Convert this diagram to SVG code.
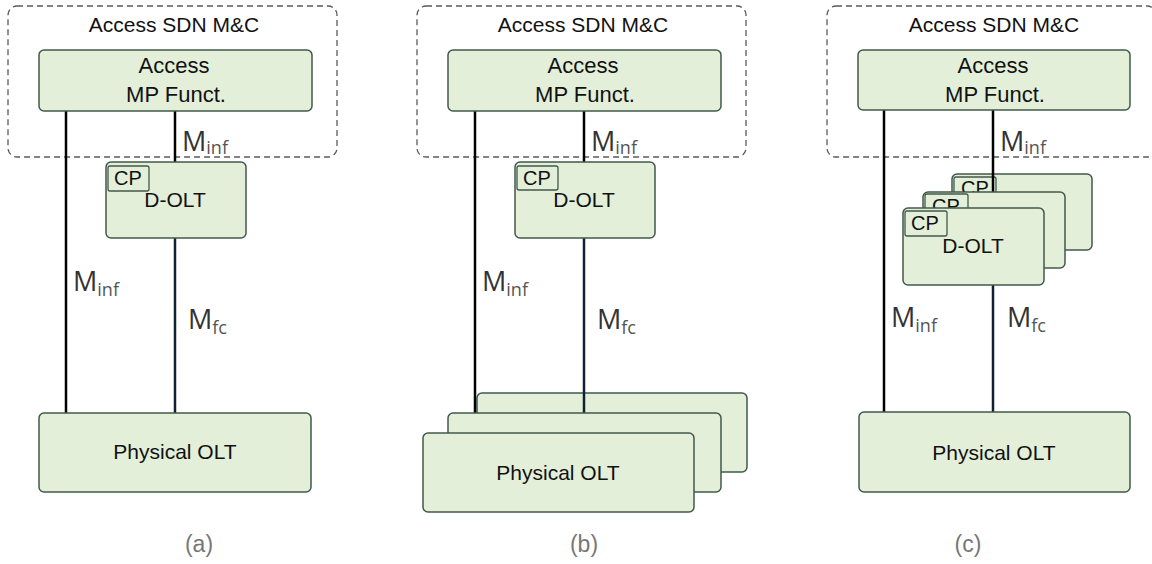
<svg xmlns="http://www.w3.org/2000/svg" width="1152" height="564" viewBox="0 0 1152 564">
<defs>
<style>
.bg{fill:#ffffff}
.dash{fill:none;stroke:#5a5a5a;stroke-width:1.3;stroke-dasharray:6,4}
.box{fill:#e3efd9;stroke:#41594a;stroke-width:1.5}
.cp{fill:#e3efd9;stroke:#41594a;stroke-width:1.3}
.t{font-family:"Liberation Sans",Arial,sans-serif;font-size:21px;fill:#111;text-anchor:middle}
.tm{font-family:"Liberation Sans",Arial,sans-serif;font-size:22px;fill:#111;text-anchor:middle}
.ts{font-family:"Liberation Sans",Arial,sans-serif;font-size:21px;fill:#111;text-anchor:middle}
.tcp{font-family:"Liberation Sans",Arial,sans-serif;font-size:20px;fill:#111}
.m{font-family:"Open Sans","Liberation Sans",sans-serif;font-size:27px;fill:#333}
.sub{font-size:18px;fill:#555}
.cap{font-family:"Liberation Sans",Arial,sans-serif;font-size:23px;fill:#777;text-anchor:middle}
.lk{stroke:#000;stroke-width:2.5;fill:none}
.ln{stroke:#102035;stroke-width:2.5;fill:none}
</style>
</defs>
<rect class="bg" x="0" y="0" width="1152" height="564"/>

<!-- containers -->
<g id="sdn-a"><rect class="dash" x="8" y="6" width="329" height="151" rx="9"/><text class="t" x="174" y="32">Access SDN M&amp;C</text></g>
<g id="sdn-b"><rect class="dash" x="417" y="6" width="329" height="151" rx="9"/><text class="t" x="583" y="32">Access SDN M&amp;C</text></g>
<g id="sdn-c"><rect class="dash" x="827" y="6" width="329" height="151" rx="9"/><text class="t" x="994" y="32">Access SDN M&amp;C</text></g>

<!-- back boxes -->
<g id="polt-b3"><rect class="box" x="477" y="393" width="270" height="79" rx="5"/></g>
<g id="dolt-c3"><rect class="box" x="952" y="174" width="140" height="76" rx="5"/><rect class="cp" x="954" y="177" width="42" height="25" rx="2"/><text class="tcp" x="961" y="195">CP</text></g>

<!-- connectors -->
<g id="connectors">
<line class="lk" x1="66" y1="111" x2="66" y2="413"/>
<line class="lk" x1="175" y1="111" x2="175" y2="162"/>
<line class="ln" x1="175" y1="238" x2="175" y2="413"/>
<line class="lk" x1="475" y1="111" x2="475" y2="413"/>
<line class="lk" x1="584" y1="111" x2="584" y2="162"/>
<line class="ln" x1="584" y1="238" x2="584" y2="413"/>
<line class="lk" x1="884" y1="110" x2="884" y2="412"/>
<line class="lk" x1="993" y1="110" x2="993" y2="192"/>
<line class="ln" x1="993" y1="285" x2="993" y2="412"/>
<text class="m" x="182" y="151">M<tspan class="sub" dy="3">inf</tspan></text>
<text class="m" x="73" y="291">M<tspan class="sub" dy="5">inf</tspan></text>
<text class="m" x="188" y="329">M<tspan class="sub" dy="5">fc</tspan></text>
<text class="m" x="591" y="151">M<tspan class="sub" dy="3">inf</tspan></text>
<text class="m" x="482" y="291">M<tspan class="sub" dy="5">inf</tspan></text>
<text class="m" x="597" y="329">M<tspan class="sub" dy="5">fc</tspan></text>
<text class="m" x="1000" y="151">M<tspan class="sub" dy="3">inf</tspan></text>
<text class="m" x="891" y="327">M<tspan class="sub" dy="5">inf</tspan></text>
<text class="m" x="1007" y="327">M<tspan class="sub" dy="5">fc</tspan></text>
</g>

<!-- panel a -->
<g id="mp-a"><rect class="box" x="39" y="50" width="273" height="61" rx="5"/><text class="tm" x="174" y="73">Access</text><text class="tm" x="176" y="102">MP Funct.</text></g>
<g id="dolt-a"><rect class="box" x="106" y="162" width="140" height="76" rx="5"/><rect class="cp" x="108" y="166" width="41" height="25" rx="2"/><text class="tcp" x="114" y="185">CP</text><text class="ts" x="175" y="207">D-OLT</text></g>
<g id="polt-a"><rect class="box" x="39" y="413" width="272" height="79" rx="5"/><text class="t" x="175" y="459">Physical OLT</text></g>
<text class="cap" x="199" y="552">(a)</text>

<!-- panel b -->
<g id="mp-b"><rect class="box" x="448" y="50" width="273" height="61" rx="5"/><text class="tm" x="583" y="73">Access</text><text class="tm" x="585" y="102">MP Funct.</text></g>
<g id="dolt-b"><rect class="box" x="515" y="162" width="140" height="76" rx="5"/><rect class="cp" x="517" y="166" width="41" height="24" rx="2"/><text class="tcp" x="523" y="185">CP</text><text class="ts" x="584" y="207">D-OLT</text></g>
<g id="polt-b2"><rect class="box" x="448" y="413" width="273" height="79" rx="5"/></g>
<g id="polt-b1"><rect class="box" x="423" y="433" width="271" height="79" rx="5"/><text class="t" x="558" y="480">Physical OLT</text></g>
<text class="cap" x="584" y="552">(b)</text>

<!-- panel c -->
<g id="mp-c"><rect class="box" x="858" y="50" width="272" height="60" rx="5"/><text class="tm" x="993" y="73">Access</text><text class="tm" x="995" y="102">MP Funct.</text></g>
<g id="dolt-c2"><rect class="box" x="923" y="192" width="142" height="76" rx="5"/><rect class="cp" x="925" y="194" width="43" height="25" rx="2"/><text class="tcp" x="932" y="213">CP</text></g>
<g id="dolt-c1"><rect class="box" x="903" y="208" width="141" height="77" rx="5"/><rect class="cp" x="905" y="211" width="42" height="25" rx="2"/><text class="tcp" x="911" y="230">CP</text><text class="ts" x="973" y="253">D-OLT</text></g>
<g id="polt-c"><rect class="box" x="859" y="412" width="271" height="80" rx="5"/><text class="t" x="994" y="460">Physical OLT</text></g>
<text class="cap" x="968" y="552">(c)</text>
</svg>
